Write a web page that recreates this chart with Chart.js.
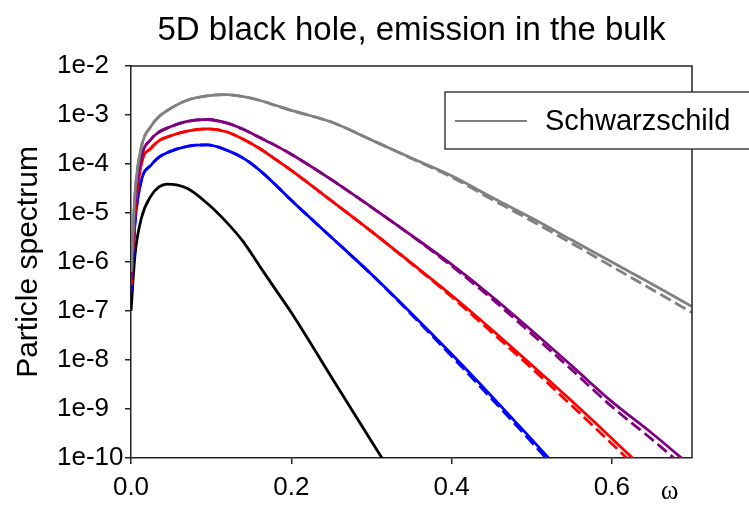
<!DOCTYPE html>
<html>
<head>
<meta charset="utf-8">
<title>5D black hole, emission in the bulk</title>
<script src="https://cdn.jsdelivr.net/npm/chart.js@4.4.0/dist/chart.umd.min.js"></script>
<style>
    html, body { margin: 0; padding: 0; background: #fff; }
    #wrap { width: 749px; height: 510px; }
</style>
</head>
<body>
<div id="wrap"><canvas id="spectrumChart" width="749" height="510"></canvas></div>
<script>
// Frequency grid (omega)
const omega = [0, 0.005, 0.013, 0.025, 0.035, 0.045, 0.07, 0.095, 0.12, 0.14, 0.16, 0.18, 0.2, 0.25, 0.3, 0.35, 0.4, 0.45, 0.5, 0.55, 0.6, 0.65, 0.7];

// Schwarzschild (grey)
const greySolid  = [6.3e-7, 2.5e-5, 2.24e-4, 5.9e-4, 9.3e-4, 1.23e-3, 2.0e-3, 2.45e-3, 2.6e-3, 2.37e-3, 2.0e-3, 1.58e-3, 1.24e-3, 7.2e-4, 3.1e-4, 1.32e-4, 5.75e-5, 2.1e-5, 7.9e-6, 2.8e-6, 1.0e-6, 3.55e-7, 1.23e-7];
const greyDashed = [6.3e-7, 2.5e-5, 2.24e-4, 5.9e-4, 9.3e-4, 1.23e-3, 2.0e-3, 2.45e-3, 2.6e-3, 2.37e-3, 2.0e-3, 1.58e-3, 1.24e-3, 7.2e-4, 3.1e-4, 1.3e-4, 5.4e-5, 1.9e-5, 6.9e-6, 2.4e-6, 8.1e-7, 2.75e-7, 9.3e-8];

// purple
const purpleSolid  = [4.3e-7, 1.6e-5, 1.38e-4, 3.2e-4, 4.5e-4, 5.4e-4, 7.4e-4, 8.1e-4, 6.8e-4, 5.1e-4, 3.5e-4, 2.4e-4, 1.58e-4, 4.8e-5, 1.32e-5, 3.5e-6, 8.9e-7, 2.0e-7, 4.0e-8, 7.6e-9, 1.41e-9, 3.2e-10, 6.6e-11];
const purpleDashed = [4.3e-7, 1.6e-5, 1.38e-4, 3.2e-4, 4.5e-4, 5.4e-4, 7.4e-4, 8.1e-4, 6.8e-4, 5.1e-4, 3.5e-4, 2.4e-4, 1.58e-4, 4.8e-5, 1.32e-5, 3.45e-6, 8.3e-7, 1.78e-7, 3.4e-8, 6.3e-9, 1.12e-9, 2.4e-10, 4.8e-11];

// red
const redSolid  = [3.4e-7, 1.0e-5, 1.02e-4, 2.1e-4, 3.0e-4, 3.55e-4, 4.7e-4, 5.2e-4, 4.5e-4, 3.2e-4, 2.1e-4, 1.26e-4, 7.4e-5, 1.78e-5, 4.2e-6, 9.5e-7, 2.1e-7, 4.2e-8, 7.9e-9, 1.45e-9, 2.5e-10, 4.2e-11, null];
const redDashed = [3.4e-7, 1.0e-5, 1.02e-4, 2.1e-4, 3.0e-4, 3.55e-4, 4.7e-4, 5.2e-4, 4.5e-4, 3.2e-4, 2.1e-4, 1.26e-4, 7.4e-5, 1.78e-5, 4.2e-6, 9.3e-7, 1.95e-7, 3.7e-8, 6.8e-9, 1.17e-9, 1.95e-10, 3.2e-11, null];

// blue
const blueSolid  = [2.3e-7, 6.3e-6, 4.7e-5, 9.5e-5, 1.38e-4, 1.7e-4, 2.3e-4, 2.45e-4, 1.9e-4, 1.32e-4, 7.6e-5, 3.8e-5, 1.82e-5, 3.2e-6, 5.6e-7, 8.9e-8, 1.32e-8, 1.82e-9, 2.4e-10, 3.0e-11, null, null, null];
const blueDashed = [2.3e-7, 6.3e-6, 4.7e-5, 9.5e-5, 1.38e-4, 1.7e-4, 2.3e-4, 2.45e-4, 1.9e-4, 1.32e-4, 7.6e-5, 3.8e-5, 1.82e-5, 3.2e-6, 5.6e-7, 8.5e-8, 1.2e-8, 1.62e-9, 2.1e-10, 2.5e-11, null, null, null];

// black
const blackSolid = [1.0e-7, 1.4e-6, 7.9e-6, 2.24e-5, 3.4e-5, 3.9e-5, 3.2e-5, 1.58e-5, 6.3e-6, 2.6e-6, 8.5e-7, 2.8e-7, 9.3e-8, 4.5e-9, 2.2e-10, 1.1e-11, null, null, null, null, null, null, null];

// Axis ticks
const xTicks = [0, 0.2, 0.4, 0.6];
const yTicks = [1e-2, 1e-3, 1e-4, 1e-5, 1e-6, 1e-7, 1e-8, 1e-9, 1e-10];

Chart.defaults.font.family = "'Liberation Sans', Arial, sans-serif";
Chart.defaults.color = '#000';

function toPoints(vals) {
    return omega.map((w, i) => ({ x: w, y: vals[i] }));
}

function series(label, vals, color, dashed) {
    return {
        label: label,
        data: toPoints(vals),
        borderColor: color,
        borderWidth: 2.8,
        borderDash: dashed ? [12, 5] : [],
        pointRadius: 0,
        fill: false,
        cubicInterpolationMode: 'monotone',
        spanGaps: false
    };
}

// box around the plot (top + right edges) and the omega label
const frame = {
    id: 'frame',
    afterDraw(chart) {
        const { ctx, chartArea: a, scales } = chart;
        ctx.save();
        ctx.strokeStyle = '#222';
        ctx.lineWidth = 1.5;
        ctx.beginPath();
        ctx.moveTo(a.left, a.top);
        ctx.lineTo(a.right, a.top);
        ctx.lineTo(a.right, a.bottom);
        ctx.stroke();

        ctx.font = "27px 'Liberation Serif', 'DejaVu Serif', serif";
        ctx.fillStyle = '#000';
        ctx.textAlign = 'center';
        ctx.textBaseline = 'middle';
        ctx.fillText('\u03C9', scales.x.getPixelForValue(0.672), 492);
        ctx.restore();
    }
};

// legend box inside the plot, only the Schwarzschild entry
const boxLegend = {
    id: 'boxLegend',
    afterDraw(chart) {
        const ds = chart.data.datasets.find(d => d.label === 'Schwarzschild');
        if (!ds) return;
        const ctx = chart.ctx;
        ctx.save();
        ctx.fillStyle = '#fff';
        ctx.strokeStyle = '#222';
        ctx.lineWidth = 1.3;
        ctx.fillRect(445, 92, 320, 57);
        ctx.strokeRect(445, 92, 320, 57);

        ctx.strokeStyle = ds.borderColor;
        ctx.lineWidth = 2;
        ctx.beginPath();
        ctx.moveTo(455, 121);
        ctx.lineTo(527, 121);
        ctx.stroke();

        ctx.fillStyle = '#000';
        ctx.font = "29px 'Liberation Sans', Arial, sans-serif";
        ctx.textAlign = 'left';
        ctx.textBaseline = 'middle';
        ctx.fillText(ds.label, 545, 122);
        ctx.restore();
    }
};

const ctx = document.getElementById('spectrumChart').getContext('2d');
new Chart(ctx, {
    type: 'line',
    data: {
        datasets: [
            series('Schwarzschild', greySolid, '#808080', false),
            series('Schwarzschild dashed', greyDashed, '#808080', true),
            series('purple', purpleSolid, '#800080', false),
            series('purple dashed', purpleDashed, '#800080', true),
            series('red', redSolid, '#ff0000', false),
            series('red dashed', redDashed, '#ff0000', true),
            series('blue', blueSolid, '#0000ff', false),
            series('blue dashed', blueDashed, '#0000ff', true),
            series('black', blackSolid, '#000000', false)
        ]
    },
    options: {
        responsive: false,
        animation: false,
        devicePixelRatio: 1,
        layout: { padding: { left: 57, right: 57, top: 0, bottom: 0 } },
        plugins: {
            legend: { display: false },
            tooltip: { enabled: false },
            title: {
                display: true,
                text: '5D black hole, emission in the bulk',
                fullSize: false,
                font: { size: 33, weight: 'normal' },
                color: '#000',
                padding: { top: 11, bottom: 15.4 }
            }
        },
        scales: {
            x: {
                type: 'linear',
                min: 0,
                max: 0.7,
                afterBuildTicks: s => { s.ticks = xTicks.map(v => ({ value: v })); },
                afterFit: s => { s.height = 52; },
                ticks: {
                    callback: v => v.toFixed(1),
                    font: { size: 26 },
                    color: '#000',
                    padding: 8,
                    maxRotation: 0,
                    autoSkip: false
                },
                grid: { drawOnChartArea: false, tickLength: 6, color: '#222', lineWidth: 1.5 },
                border: { color: '#222', width: 1.5 }
            },
            y: {
                type: 'logarithmic',
                min: 1e-10,
                max: 1e-2,
                afterBuildTicks: s => { s.ticks = yTicks.map(v => ({ value: v })); },
                afterFit: s => { s.width = 74; },
                ticks: {
                    callback: v => '1e' + Math.round(Math.log10(v)),
                    font: { size: 26 },
                    color: '#000',
                    crossAlign: 'far',
                    autoSkip: false
                },
                grid: { drawOnChartArea: false, tickLength: 6, color: '#222', lineWidth: 1.5 },
                border: { color: '#222', width: 1.5 },
                title: {
                    display: true,
                    text: 'Particle spectrum',
                    font: { size: 30 },
                    color: '#000',
                    padding: { top: -46, bottom: 0 }
                }
            }
        }
    },
    plugins: [frame, boxLegend]
});
</script>
</body>
</html>
